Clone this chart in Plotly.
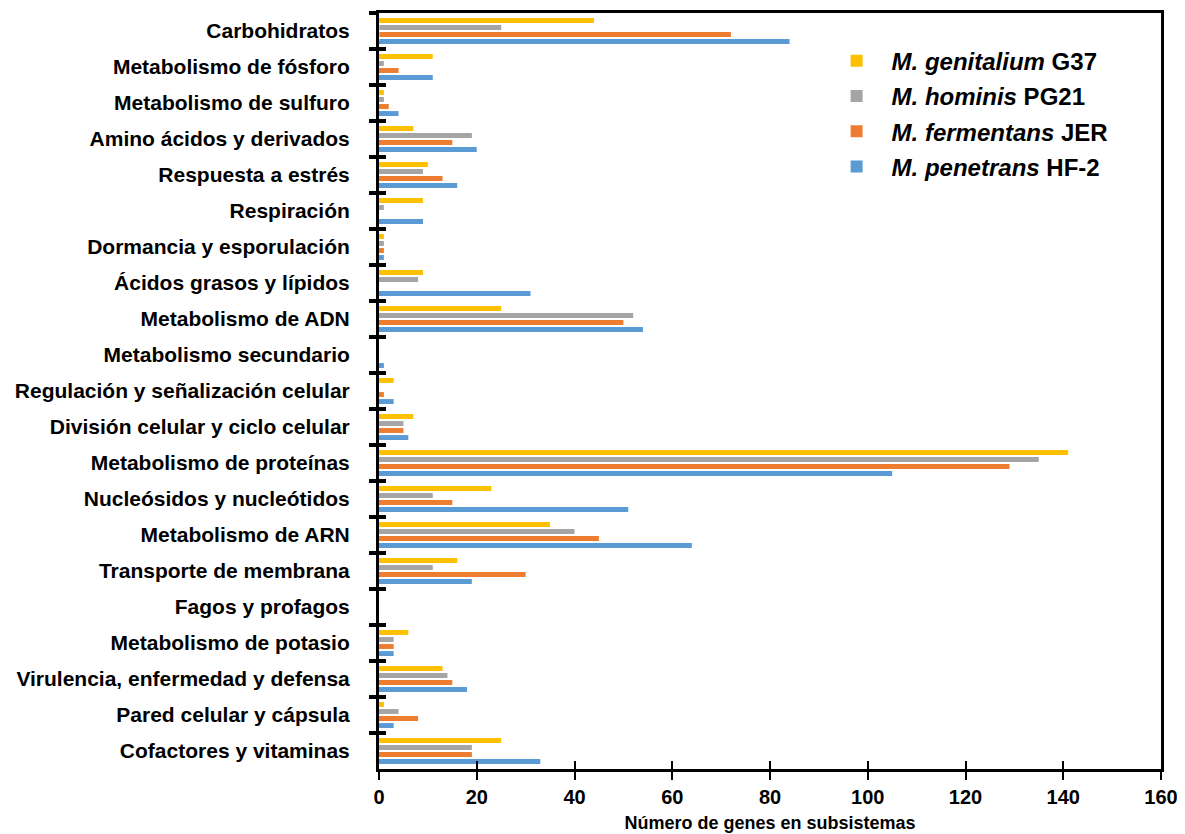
import plotly.graph_objects as go

categories = [
    "Carbohidratos", "Metabolismo de fósforo", "Metabolismo de sulfuro",
    "Amino ácidos y derivados", "Respuesta a estrés", "Respiración",
    "Dormancia y esporulación", "Ácidos grasos y lípidos", "Metabolismo de ADN",
    "Metabolismo secundario", "Regulación y señalización celular",
    "División celular y ciclo celular", "Metabolismo de proteínas",
    "Nucleósidos y nucleótidos", "Metabolismo de ARN", "Transporte de membrana",
    "Fagos y profagos", "Metabolismo de potasio", "Virulencia, enfermedad y defensa",
    "Pared celular y cápsula", "Cofactores y vitaminas",
]

genitalium = [44, 11, 1, 7, 10, 9, 1, 9, 25, 0, 3, 7, 141, 23, 35, 16, 0, 6, 13, 1, 25]
hominis    = [25, 1, 1, 19, 9, 1, 1, 8, 52, 0, 0, 5, 135, 11, 40, 11, 0, 3, 14, 4, 19]
fermentans = [72, 4, 2, 15, 13, 0, 1, 0, 50, 0, 1, 5, 129, 15, 45, 30, 0, 3, 15, 8, 19]
penetrans  = [84, 11, 4, 20, 16, 9, 1, 31, 54, 1, 3, 6, 105, 51, 64, 19, 0, 3, 18, 3, 33]

series_names = [
    "<i>M. genitalium</i> G37",
    "<i>M. hominis</i> PG21",
    "<i>M. fermentans</i> JER",
    "<i>M. penetrans</i> HF-2",
]
series_values = [genitalium, hominis, fermentans, penetrans]
colors = ["#FFC000", "#A5A5A5", "#ED7D31", "#5B9BD5"]

x_ticks = [0, 20, 40, 60, 80, 100, 120, 140, 160]

FONT = "Liberation Sans, Arial, sans-serif"
cat_range = [len(categories) - 0.5, -0.5]

fig = go.Figure()
for i, (name, vals, col) in enumerate(zip(series_names, series_values, colors)):
    fig.add_trace(go.Bar(
        y=categories, x=vals, name=name, orientation="h",
        marker=dict(color=col, line=dict(width=0)),
        legendgroup=f"g{i}",
    ))

# invisible trace so the overlay axes (inner tick halves) are drawn
fig.add_trace(go.Bar(x=[0], y=[categories[0]], xaxis="x2", yaxis="y2",
                     orientation="h", showlegend=False, hoverinfo="skip",
                     marker=dict(color="rgba(0,0,0,0)")))

fig.update_layout(
    width=1185, height=834,
    margin=dict(l=371, r=32, t=5, b=73, autoexpand=False),
    paper_bgcolor="white", plot_bgcolor="white",
    barmode="group", bargap=0.22, bargroupgap=0.3,
    font=dict(family=FONT, color="black"),
    showlegend=True,
    legend=dict(
        x=0.566, y=0.966, xanchor="left", yanchor="top",
        font=dict(family=FONT, size=24, weight="bold", color="black"),
        bgcolor="rgba(0,0,0,0)", tracegroupgap=1, itemwidth=60,
    ),
    xaxis=dict(
        range=[0, 160], tickvals=x_ticks, ticktext=[str(v) for v in x_ticks],
        showgrid=False, zeroline=False,
        showline=True, linecolor="black", linewidth=3, mirror=True,
        ticks="outside", ticklen=8, tickwidth=2, tickcolor="black",
        tickfont=dict(family=FONT, size=20, weight="bold"),
        title=dict(text="Número de genes en subsistemas",
                   font=dict(family=FONT, size=18, weight="bold"), standoff=10),
    ),
    xaxis2=dict(
        range=[0, 160], tickvals=x_ticks, overlaying="x", anchor="y", side="bottom",
        showgrid=False, zeroline=False, showline=False, showticklabels=False,
        ticks="inside", ticklen=8, tickwidth=2, tickcolor="black",
    ),
    yaxis=dict(
        categoryorder="array", categoryarray=categories, range=cat_range,
        showgrid=False, zeroline=False,
        showline=True, linecolor="black", linewidth=3, mirror=True,
        ticks="outside", ticklen=7, tickwidth=4, tickcolor="black",
        tickson="boundaries", ticklabelstandoff=22,
        tickfont=dict(family=FONT, size=21, weight="bold"),
    ),
    yaxis2=dict(
        categoryorder="array", categoryarray=categories, range=cat_range,
        overlaying="y", anchor="x", side="left",
        showgrid=False, zeroline=False, showline=False, showticklabels=False,
        ticks="inside", ticklen=7, tickwidth=4, tickcolor="black",
        tickson="boundaries",
    ),
)

fig.write_html("out.html")
